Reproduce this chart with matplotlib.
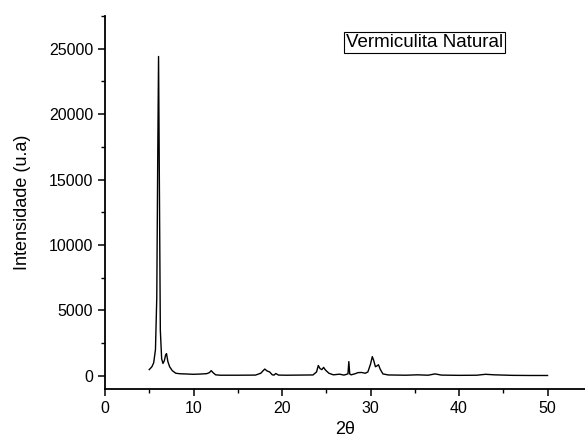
import numpy as np
import matplotlib
matplotlib.use("Agg")
import matplotlib.pyplot as plt
from matplotlib.ticker import MultipleLocator

plt.rcParams['font.family'] = ['Liberation Sans', 'DejaVu Sans']

# 2theta positions and intensities
two_theta = [5.0, 5.3, 5.5, 5.7, 5.85, 5.95, 6.05, 6.15, 6.25, 6.4, 6.55, 6.7, 6.85, 6.95,
             7.1, 7.3, 7.6, 8.0, 8.5, 9.0, 10.0, 10.8, 11.5, 11.8, 12.0, 12.2, 12.5,
             13.0, 15.0, 17.0, 17.6, 17.9, 18.05, 18.3, 18.6, 18.9, 19.1, 19.3, 19.6,
             20.5, 22.0, 23.5, 23.9, 24.1, 24.3, 24.5, 24.7, 24.9, 25.3, 25.8, 26.5,
             27.0, 27.45, 27.55, 27.65, 27.8, 28.2, 28.6, 29.0, 29.4, 29.7, 30.0,
             30.2, 30.35, 30.55, 30.7, 30.9, 31.1, 31.4, 32.0, 34.0, 35.3, 36.5,
             37.3, 38.0, 40.0, 42.0, 43.0, 44.0, 46.0, 48.0, 50.0]
intensity = [480, 700, 1000, 2000, 6000, 16000, 24400, 14000, 3500, 1300, 950, 1150, 1600, 1700,
             1100, 700, 400, 200, 160, 150, 120, 140, 170, 250, 400, 250, 80,
             50, 50, 60, 200, 420, 520, 380, 300, 80, 60, 180, 60,
             50, 60, 70, 300, 790, 550, 480, 650, 450, 200, 80, 130,
             60, 150, 1090, 150, 80, 150, 250, 260, 200, 300, 900,
             1470, 1200, 700, 750, 850, 500, 150, 70, 50, 80, 50,
             150, 60, 40, 50, 120, 80, 40, 30, 30]

fig = plt.figure(figsize=(5.85, 4.41), dpi=100)
ax = fig.add_axes([0.1795, 0.118, 0.82, 0.846])
ax.plot(two_theta, intensity, color='black', linewidth=1.0)

ax.set_xlim(0, 54.2)
ax.set_ylim(-1000, 27500)
ax.xaxis.set_major_locator(MultipleLocator(10))
ax.xaxis.set_minor_locator(MultipleLocator(5))
ax.yaxis.set_major_locator(MultipleLocator(5000))
ax.yaxis.set_minor_locator(MultipleLocator(2500))
ax.spines['top'].set_visible(False)
ax.spines['right'].set_visible(False)
ax.spines['left'].set_linewidth(1.3)
ax.spines['bottom'].set_linewidth(1.3)
ax.tick_params(which='major', direction='out', length=5, width=1.1, labelsize=11.5)
ax.tick_params(which='minor', direction='out', length=3, width=1.0)

ax.set_xlabel('2θ', fontsize=13, labelpad=4)
ax.set_ylabel('Intensidade (u.a)', fontsize=13, labelpad=13)

ax.text(0.503, 0.928, 'Vermiculita Natural', transform=ax.transAxes, fontsize=13.5,
        ha='left', va='center',
        bbox=dict(boxstyle='square,pad=0.1', facecolor='white', edgecolor='black', linewidth=0.8))

fig.savefig('out.png', dpi=100)
